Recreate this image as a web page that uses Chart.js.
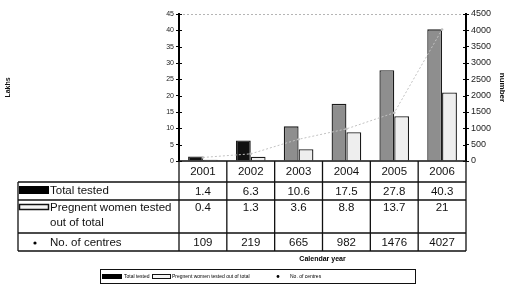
<!DOCTYPE html>
<html>
<head>
<meta charset="utf-8">
<script src="https://cdn.jsdelivr.net/npm/chart.js@4.4.1/dist/chart.umd.min.js"></script>
<style>
  html, body { margin: 0; padding: 0; background: #fff; }
  #wrap { width: 511px; height: 286px; }
</style>
</head>
<body>
<div id="wrap"><canvas id="grafico" width="511" height="286"></canvas></div>
<script>
// datos
const years = ['2001', '2002', '2003', '2004', '2005', '2006'];
const totalTested = [1.4, 6.3, 10.6, 17.5, 27.8, 40.3];   // lakhs
const pregnantTested = [0.4, 1.3, 3.6, 8.8, 13.7, 21];   // lakhs
const centres = [109, 219, 665, 982, 1476, 4027];        // numero
const lakhsTicks = [0, 45, 5];     // min, max, paso
const numberTicks = [0, 4500, 500];

const coloresTotal = ['#111', '#111', '#8e8e8e', '#8e8e8e', '#8e8e8e', '#8e8e8e'];
const fuente = '"Liberation Sans", Arial, sans-serif';

// tabla de datos bajo el grafico + leyenda dibujada a mano
const tablaPlugin = {
  id: 'tabla',
  afterDraw(chart) {
    const ctx = chart.ctx;
    const ca = chart.chartArea;
    const xs = chart.scales.x;
    const y = chart.scales.y;
    const y1 = chart.scales.y1;
    const colW = (ca.right - ca.left) / years.length;
    const filas = [ca.bottom, 182, 200, 233, 251];
    const izq = 18;

    ctx.save();
    // linea punteada arriba (45)
    ctx.strokeStyle = '#b5b5b5';
    ctx.lineWidth = 1;
    ctx.setLineDash([2, 2]);
    ctx.beginPath();
    ctx.moveTo(ca.left, y.getPixelForValue(45) + 0.5);
    ctx.lineTo(ca.right, y.getPixelForValue(45) + 0.5);
    ctx.stroke();
    ctx.setLineDash([]);

    // marcas hacia dentro de los ejes
    ctx.strokeStyle = '#000';
    ctx.lineWidth = 1;
    y.ticks.forEach(t => {
      const py = Math.round(y.getPixelForValue(t.value)) + 0.5;
      ctx.beginPath(); ctx.moveTo(ca.left, py); ctx.lineTo(ca.left + 3, py); ctx.stroke();
    });
    y1.ticks.forEach(t => {
      const py = Math.round(y1.getPixelForValue(t.value)) + 0.5;
      ctx.beginPath(); ctx.moveTo(ca.right - 3, py); ctx.lineTo(ca.right, py); ctx.stroke();
    });

    // lineas de la tabla
    ctx.strokeStyle = '#111';
    ctx.lineWidth = 1.3;
    ctx.beginPath();
    ctx.moveTo(ca.left, filas[0]); ctx.lineTo(ca.right, filas[0]);
    for (let i = 1; i < filas.length; i++) {
      ctx.moveTo(izq, filas[i]); ctx.lineTo(ca.right, filas[i]);
    }
    ctx.moveTo(izq, filas[1]); ctx.lineTo(izq, filas[4]);
    for (let i = 0; i <= years.length; i++) {
      const px = ca.left + i * colW;
      ctx.moveTo(px, filas[0]); ctx.lineTo(px, filas[4]);
    }
    ctx.stroke();

    // textos de la tabla
    ctx.fillStyle = '#111';
    ctx.font = '11.5px ' + fuente;
    ctx.textAlign = 'center';
    ctx.textBaseline = 'middle';
    years.forEach((yr, i) => {
      const px = xs.getPixelForValue(i);
      ctx.fillText(yr, px, 172);
      ctx.fillText(String(totalTested[i]), px, 192);
      ctx.fillText(String(pregnantTested[i]), px, 208);
      ctx.fillText(String(centres[i]), px, 243);
    });
    ctx.textAlign = 'left';
    ctx.fillText('Total tested', 50, 191);
    ctx.fillText('Pregnent women tested', 50, 208);
    ctx.fillText('out of total', 50, 223);
    ctx.fillText('No. of centres', 50, 243);

    // muestras de la tabla
    ctx.fillStyle = '#000';
    ctx.fillRect(19, 186, 30, 8);
    ctx.fillStyle = '#f4f4f4';
    ctx.lineWidth = 1.5;
    ctx.fillRect(19.5, 204.5, 29, 5);
    ctx.strokeRect(19.5, 204.5, 29, 5);
    ctx.fillStyle = '#000';
    ctx.beginPath(); ctx.arc(35, 243, 1.6, 0, Math.PI * 2); ctx.fill();

    // titulo eje x
    ctx.font = 'bold 7px ' + fuente;
    ctx.textAlign = 'center';
    ctx.fillText('Calendar year', (ca.left + ca.right) / 2, 259);

    // leyenda
    ctx.lineWidth = 1;
    ctx.strokeStyle = '#111';
    ctx.strokeRect(100.5, 269.5, 315, 14);
    ctx.fillStyle = '#000';
    ctx.fillRect(102, 274, 20, 5);
    ctx.fillStyle = '#f4f4f4';
    ctx.fillRect(152.5, 274.5, 18, 4);
    ctx.strokeRect(152.5, 274.5, 18, 4);
    ctx.fillStyle = '#000';
    ctx.beginPath(); ctx.arc(278, 276.5, 1.4, 0, Math.PI * 2); ctx.fill();
    ctx.font = '5px ' + fuente;
    ctx.textAlign = 'left';
    ctx.fillText('Total tested', 124, 277);
    ctx.fillText('Pregnent women tested out of total', 172, 277);
    ctx.fillText('No. of centres', 290, 277);
    ctx.restore();
  }
};

const grafico = new Chart(document.getElementById('grafico').getContext('2d'), {
  type: 'bar',
  data: {
    labels: years,
    datasets: [
      {
        type: 'line',
        label: 'No. of centres',
        data: centres,
        yAxisID: 'y1',
        borderColor: '#c2c2c2',
        borderWidth: 1,
        borderDash: [2, 2],
        pointRadius: 1.3,
        pointBackgroundColor: '#bdbdbd',
        pointBorderWidth: 0,
        order: 0
      },
      {
        label: 'Total tested',
        data: totalTested,
        yAxisID: 'y',
        backgroundColor: coloresTotal,
        borderColor: '#1a1a1a',
        borderWidth: 1.3,
        categoryPercentage: 0.62,
        barPercentage: 1.0,
        order: 1
      },
      {
        label: 'Pregnent women tested out of total',
        data: pregnantTested,
        yAxisID: 'y',
        backgroundColor: '#eeeeee',
        borderColor: '#1a1a1a',
        borderWidth: 1.3,
        categoryPercentage: 0.62,
        barPercentage: 1.0,
        order: 1
      }
    ]
  },
  options: {
    responsive: false,
    animation: false,
    layout: { padding: { top: 14, bottom: 125, left: 0, right: 0 } },
    plugins: {
      legend: { display: false },
      tooltip: { enabled: false }
    },
    scales: {
      x: { display: false },
      y: {
        position: 'left',
        min: lakhsTicks[0],
        max: lakhsTicks[1],
        ticks: { stepSize: lakhsTicks[2], font: { family: fuente, size: 7 }, color: '#222', padding: 2 },
        grid: { drawOnChartArea: false, tickLength: 3, tickColor: '#000' },
        border: { color: '#000', width: 2 },
        title: { display: true, text: 'Lakhs', font: { family: fuente, size: 7, weight: 'bold' }, color: '#111' },
        afterFit(scale) { scale.width = 179; }
      },
      y1: {
        position: 'right',
        min: numberTicks[0],
        max: numberTicks[1],
        ticks: {
          stepSize: numberTicks[2],
          font: { family: fuente, size: 9 },
          color: '#222',
          padding: 2,
          callback: v => String(v)   // sin separador de miles
        },
        grid: { drawOnChartArea: false, tickLength: 3, tickColor: '#000' },
        border: { color: '#000', width: 2 },
        title: { display: true, text: 'number', font: { family: fuente, size: 8, weight: 'bold' }, color: '#111' },
        afterFit(scale) { scale.width = 45; }
      }
    }
  },
  plugins: [tablaPlugin]
});
</script>
</body>
</html>
